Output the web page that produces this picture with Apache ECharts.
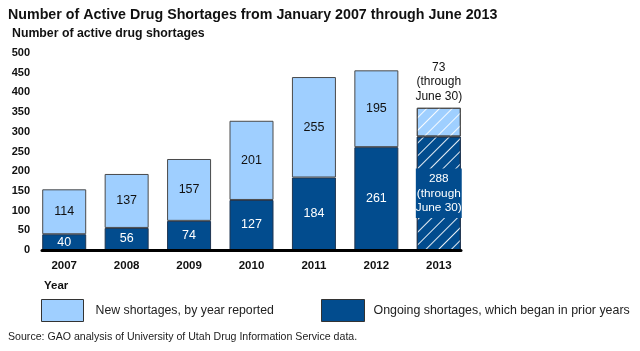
<!DOCTYPE html>
<html>
<head>
<meta charset="utf-8">
<script src="https://cdn.jsdelivr.net/npm/echarts@6/dist/echarts.min.js"></script>
<style>html,body{margin:0;padding:0;background:#fff}#c{width:640px;height:351px}</style>
</head>
<body>
<div id="c"></div>
<script>
const years = ['2007', '2008', '2009', '2010', '2011', '2012', '2013'];
const ongoing = [40, 56, 74, 127, 184, 261, 288];
const newShortages = [114, 137, 157, 201, 255, 195, 73];
const partialYear = '2013';
const partialNote = '(through\nJune 30)';
const yTicks = { min: 0, max: 500, interval: 50 };

const FONT = 'Liberation Sans, Arial, sans-serif';
const LIGHT = '#9fcfff';
const DARK = '#024c8e';
const hatch = {
  symbol: 'rect', symbolSize: 1, dashArrayX: [1, 0], dashArrayY: [0.9, 7.2],
  rotation: -Math.PI / 4, color: 'rgba(255,255,255,0.9)'
};

const ongoingData = years.map((y, i) => y === partialYear
  ? { value: ongoing[i], itemStyle: { decal: hatch },
      label: { formatter: ongoing[i] + '\n' + partialNote, lineHeight: 14.5, fontSize: 11.8,
               backgroundColor: DARK, padding: [3, 0] } }
  : ongoing[i]);
const newData = years.map((y, i) => y === partialYear
  ? { value: newShortages[i], itemStyle: { decal: hatch },
      label: { position: 'top', color: '#111', distance: 4, lineHeight: 14.5, fontSize: 12,
               formatter: newShortages[i] + '\n' + partialNote } }
  : newShortages[i]);

const chart = echarts.init(document.getElementById('c'), null, { renderer: 'canvas' });
chart.setOption({
  animation: false,
  aria: { enabled: false },
  textStyle: { fontFamily: FONT },
  title: [
    { text: 'Number of Active Drug Shortages from January 2007 through June 2013', left: 3, top: 3,
      textStyle: { fontSize: 14.25, fontWeight: 'bold', color: '#111', fontFamily: FONT } },
    { text: 'Number of active drug shortages', left: 7, top: 23,
      textStyle: { fontSize: 12.3, fontWeight: 'bold', color: '#111', fontFamily: FONT } },
    { text: 'Year', left: 39, top: 275,
      textStyle: { fontSize: 11.5, fontWeight: 'bold', color: '#111', fontFamily: FONT } },
    { text: 'Source: GAO analysis of University of Utah Drug Information Service data.', left: 3, top: 327,
      textStyle: { fontSize: 10.6, fontWeight: 'normal', color: '#222', fontFamily: FONT } }
  ],
  legend: [
    { data: ['New shortages, by year reported'], left: 41, top: 299, icon: 'rect',
      itemWidth: 42, itemHeight: 22, padding: 0,
      itemStyle: { borderColor: '#333', borderWidth: 1 },
      textStyle: { fontSize: 12.3, color: '#222', fontFamily: FONT, padding: [0, 0, 0, 7] } },
    { data: ['Ongoing shortages, which began in prior years'], left: 321, top: 299, icon: 'rect',
      itemWidth: 43, itemHeight: 22, padding: 0,
      itemStyle: { borderColor: '#333', borderWidth: 1 },
      textStyle: { fontSize: 12.4, color: '#222', fontFamily: FONT, padding: [0, 0, 0, 4] } }
  ],
  grid: [
    { left: 33, right: 170, top: 53, height: 197 },
    { left: 42, right: 179, top: 53, height: 197 }
  ],
  xAxis: [
    { type: 'category', data: years, gridIndex: 0,
      axisLine: { show: false }, axisTick: { show: false },
      axisLabel: { fontSize: 11.5, fontWeight: 'bold', color: '#111', margin: 10, fontFamily: FONT } },
    { type: 'value', gridIndex: 1, min: 0, max: 1, z: 10,
      axisLine: { show: true, lineStyle: { color: '#000', width: 3 } },
      axisTick: { show: false }, axisLabel: { show: false }, splitLine: { show: false } }
  ],
  yAxis: [
    { type: 'value', gridIndex: 0, min: yTicks.min, max: yTicks.max, interval: yTicks.interval,
      axisLine: { show: false }, axisTick: { show: false }, splitLine: { show: false },
      axisLabel: { fontSize: 11, fontWeight: 'bold', color: '#111', margin: 3, fontFamily: FONT } },
    { type: 'value', gridIndex: 1, min: 0, max: 1, show: false }
  ],
  series: [
    { name: 'Ongoing shortages, which began in prior years', type: 'bar', stack: 'all',
      xAxisIndex: 0, yAxisIndex: 0, barWidth: 44, data: ongoingData,
      itemStyle: { color: DARK, borderColor: '#1f3550', borderWidth: 1 },
      label: { show: true, position: 'inside', color: '#fff', fontSize: 12.5, fontFamily: FONT } },
    { name: 'New shortages, by year reported', type: 'bar', stack: 'all',
      xAxisIndex: 0, yAxisIndex: 0, barWidth: 44, data: newData,
      itemStyle: { color: LIGHT, borderColor: '#4a4a4a', borderWidth: 1 },
      label: { show: true, position: 'inside', color: '#111', fontSize: 12.5, fontFamily: FONT } }
  ]
});
</script>
</body>
</html>
